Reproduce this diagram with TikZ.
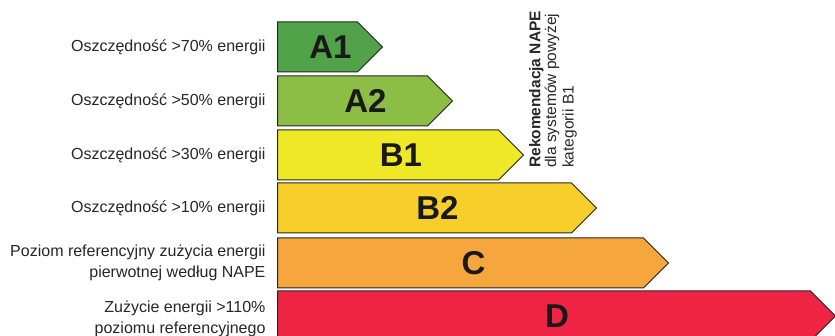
\documentclass[tikz,border=0pt]{standalone}
\usepackage{fontspec}
\setmainfont{Liberation Sans}
\usetikzlibrary{shapes.symbols}

\definecolor{clsAone}{HTML}{52A24A}
\definecolor{clsAtwo}{HTML}{8CBD45}
\definecolor{clsBone}{HTML}{EEE826}
\definecolor{clsBtwo}{HTML}{F7CF2A}
\definecolor{clsC}{HTML}{F5A63C}
\definecolor{clsD}{HTML}{EF2444}

\tikzset{
  klasa/.style={signal, signal to=east, signal pointer angle=90, draw=black!85, line width=1pt,
    minimum height=50pt, inner sep=0pt, anchor=west},
  litera/.style={xshift=13pt, inner sep=0pt, text=black!90, font=\fontsize{33}{33}\selectfont\bfseries},
  opis/.style={anchor=east, align=right, text=black!85, font=\fontsize{16}{21}\selectfont}
}

\begin{document}
\begin{tikzpicture}[x=1pt, y=-1pt]
            \useasboundingbox (0,0) rectangle (835,336);

            % energy classes
            \node[klasa, fill=clsAone, minimum width=105pt, label={[litera]center:A1}] at (277, 47)  (a1) {};
            \node[klasa, fill=clsAtwo, minimum width=175pt, label={[litera]center:A2}] at (277, 101) (a2) {};
            \node[klasa, fill=clsBone, minimum width=246pt, label={[litera]center:B1}] at (277, 155) (b1) {};
            \node[klasa, fill=clsBtwo, minimum width=319pt, label={[litera]center:B2}] at (277, 208) (b2) {};
            \node[klasa, fill=clsC,    minimum width=391pt, label={[litera]center:C}]  at (277, 263) (c)  {};
            \node[klasa, fill=clsD,    minimum width=558pt, label={[litera]center:D}]  at (277, 316) (d)  {};

            % descriptions
            \node[opis] at (269, 47)  (ta1) {Oszczędność >70\% energii};
            \node[opis] at (269, 101) (ta2) {Oszczędność >50\% energii};
            \node[opis] at (269, 155) (tb1) {Oszczędność >30\% energii};
            \node[opis] at (269, 208) (tb2) {Oszczędność >10\% energii};
            \node[opis] at (269, 263) (tc)  {Poziom referencyjny zużycia energii\\pierwotnej według NAPE};
            \node[opis] at (269, 319) (td)  {Zużycie energii >110\%\\poziomu referencyjnego};

            \node[rotate=90, anchor=north west, align=left, inner sep=0pt, text=black!85,
                  font=\fontsize{15.5}{13}\selectfont] at (529, 168) (rek)
                  {\textbf{Rekomendacja NAPE}\\dla systemów powyżej\\[2pt]kategorii B1};
\end{tikzpicture}
\end{document}
